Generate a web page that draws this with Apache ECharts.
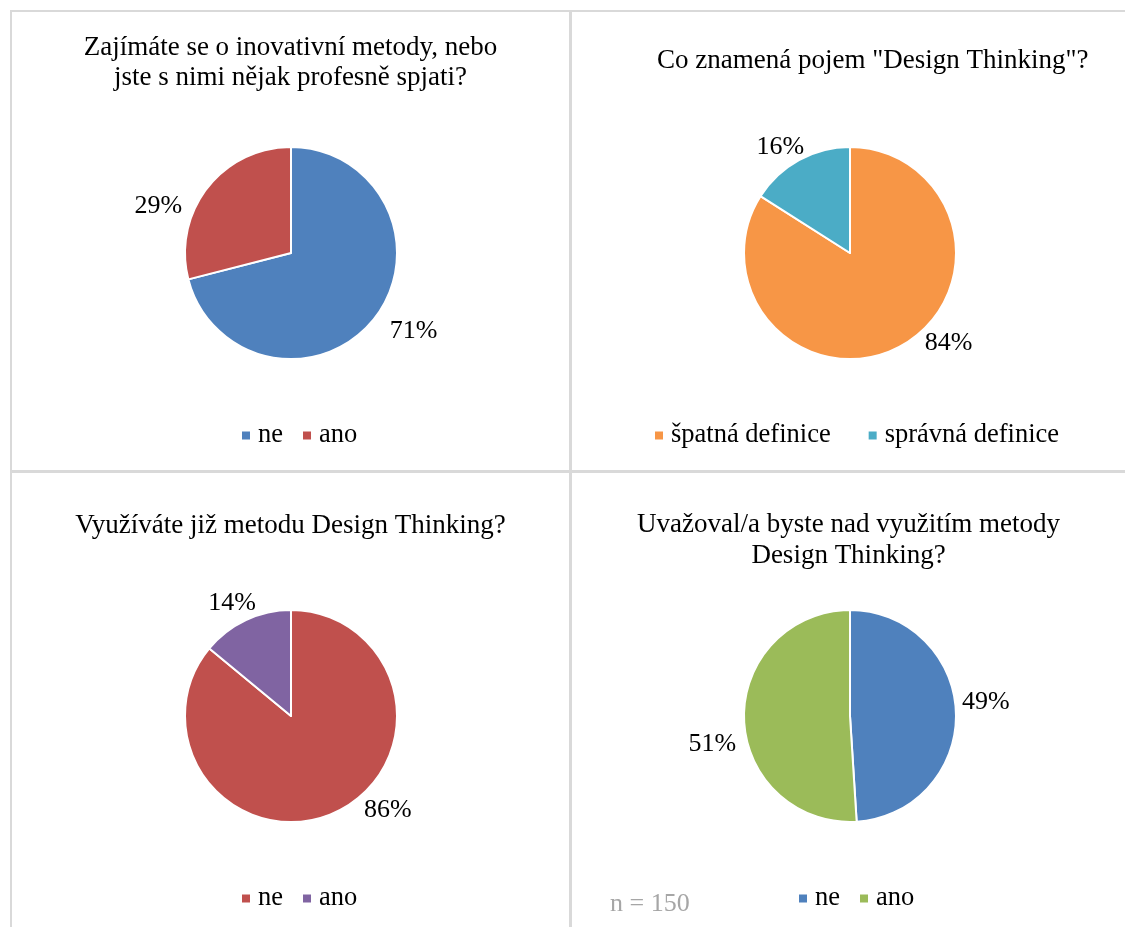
<!DOCTYPE html>
<html>
<head>
<meta charset="utf-8">
<script src="https://cdn.jsdelivr.net/npm/echarts@6/dist/echarts.min.js"></script>
<style>
  html, body { margin: 0; padding: 0; background: #ffffff; }
  body { width: 1125px; height: 927px; position: relative; overflow: hidden; }
  .ln { position: absolute; background: #d9d9d9; }
  .panel { position: absolute; }
</style>
</head>
<body>
<div class="ln" style="left:10px;top:10px;width:2px;height:917px;"></div>
<div class="ln" style="left:10px;top:10px;width:1115px;height:2px;"></div>
<div class="ln" style="left:569px;top:10px;width:3px;height:917px;"></div>
<div class="ln" style="left:10px;top:470px;width:1115px;height:3px;"></div>
<div id="p1" class="panel" style="left:12px;top:12px;width:557px;height:458px;"></div>
<div id="p2" class="panel" style="left:572px;top:12px;width:553px;height:458px;"></div>
<div id="p3" class="panel" style="left:12px;top:473px;width:557px;height:454px;"></div>
<div id="p4" class="panel" style="left:572px;top:473px;width:553px;height:454px;"></div>
<script>
// ---- data ----
const title1 = 'Zajímáte se o inovativní metody, nebo\njste s nimi nějak profesně spjati?';
const cats1 = ['ne', 'ano'];
const vals1 = [71, 29];
const colors1 = ['#4F81BD', '#C0504D'];

const title2 = 'Co znamená pojem "Design Thinking"?';
const cats2 = ['špatná definice', 'správná definice'];
const vals2 = [84, 16];
const colors2 = ['#F79646', '#4BACC6'];

const title3 = 'Využíváte již metodu Design Thinking?';
const cats3 = ['ne', 'ano'];
const vals3 = [86, 14];
const colors3 = ['#C0504D', '#8064A2'];

const title4 = 'Uvažoval/a byste nad využitím metody\nDesign Thinking?';
const cats4 = ['ne', 'ano'];
const vals4 = [49, 51];
const colors4 = ['#4F81BD', '#9BBB59'];

const noteText = 'n = 150';

const FONT = '"Liberation Serif", "Times New Roman", serif';

function makeOption(cfg) {
  const opt = {
    animation: false,
    color: cfg.colors,
    title: {
      text: cfg.title,
      left: cfg.titleLeft,
      top: cfg.titleTop,
      textStyle: { fontFamily: FONT, fontSize: 27, fontWeight: 'normal', color: '#000', lineHeight: cfg.titleLH }
    },
    legend: {
      data: cfg.cats,
      left: cfg.legendLeft,
      top: cfg.legendTop,
      icon: 'rect',
      itemWidth: 10,
      itemHeight: 10,
      itemGap: cfg.legendGap,
      textStyle: { fontFamily: FONT, fontSize: 26.5, color: '#000', padding: [0, 0, 0, 2] }
    },
    series: [{
      type: 'pie',
      center: cfg.center,
      radius: 106,
      startAngle: 90,
      clockwise: true,
      avoidLabelOverlap: false,
      itemStyle: { borderColor: '#ffffff', borderWidth: 2 },
      label: {
        show: true,
        position: 'outside',
        formatter: '{c}%',
        fontFamily: FONT,
        fontSize: 26,
        color: '#000'
      },
      labelLine: { show: false, length: 14, length2: 2 },
      labelLayout: function (p) {
        const s = cfg.labelShift[p.dataIndex];
        return { dx: s[0], dy: s[1] };
      },
      emphasis: { disabled: true },
      data: cfg.cats.map((n, i) => ({ name: n, value: cfg.vals[i] }))
    }]
  };
  if (cfg.note) {
    opt.graphic = [{
      type: 'text',
      left: 38,
      top: 418,
      style: { text: cfg.note, fontFamily: FONT, fontSize: 26, fill: '#a6a6a6' }
    }];
  }
  return opt;
}

echarts.init(document.getElementById('p1')).setOption(makeOption({
  title: title1, cats: cats1, vals: vals1, colors: colors1,
  titleLeft: 'center', titleTop: 16, titleLH: 30,
  legendLeft: 223, legendTop: 405, legendGap: 18, center: [279, 241],
  labelShift: [[-3, 5], [-7, 27]]
}));
echarts.init(document.getElementById('p2')).setOption(makeOption({
  title: title2, cats: cats2, vals: vals2, colors: colors2,
  titleLeft: 80, titleTop: 29, titleLH: 30,
  legendLeft: 76, legendTop: 405, legendGap: 36, center: [278, 241],
  labelShift: [[10, -15], [19, -1]]
}));
echarts.init(document.getElementById('p3')).setOption(makeOption({
  title: title3, cats: cats3, vals: vals3, colors: colors3,
  titleLeft: 'center', titleTop: 33, titleLH: 30,
  legendLeft: 223, legendTop: 407, legendGap: 18, center: [279, 243],
  labelShift: [[15, -14], [23, -4]]
}));
echarts.init(document.getElementById('p4')).setOption(makeOption({
  title: title4, cats: cats4, vals: vals4, colors: colors4,
  titleLeft: 'center', titleTop: 31, titleLH: 31,
  legendLeft: 220, legendTop: 407, legendGap: 18, center: [278, 243], note: noteText,
  labelShift: [[-15, -10], [13, 24]]
}));
</script>
</body>
</html>
